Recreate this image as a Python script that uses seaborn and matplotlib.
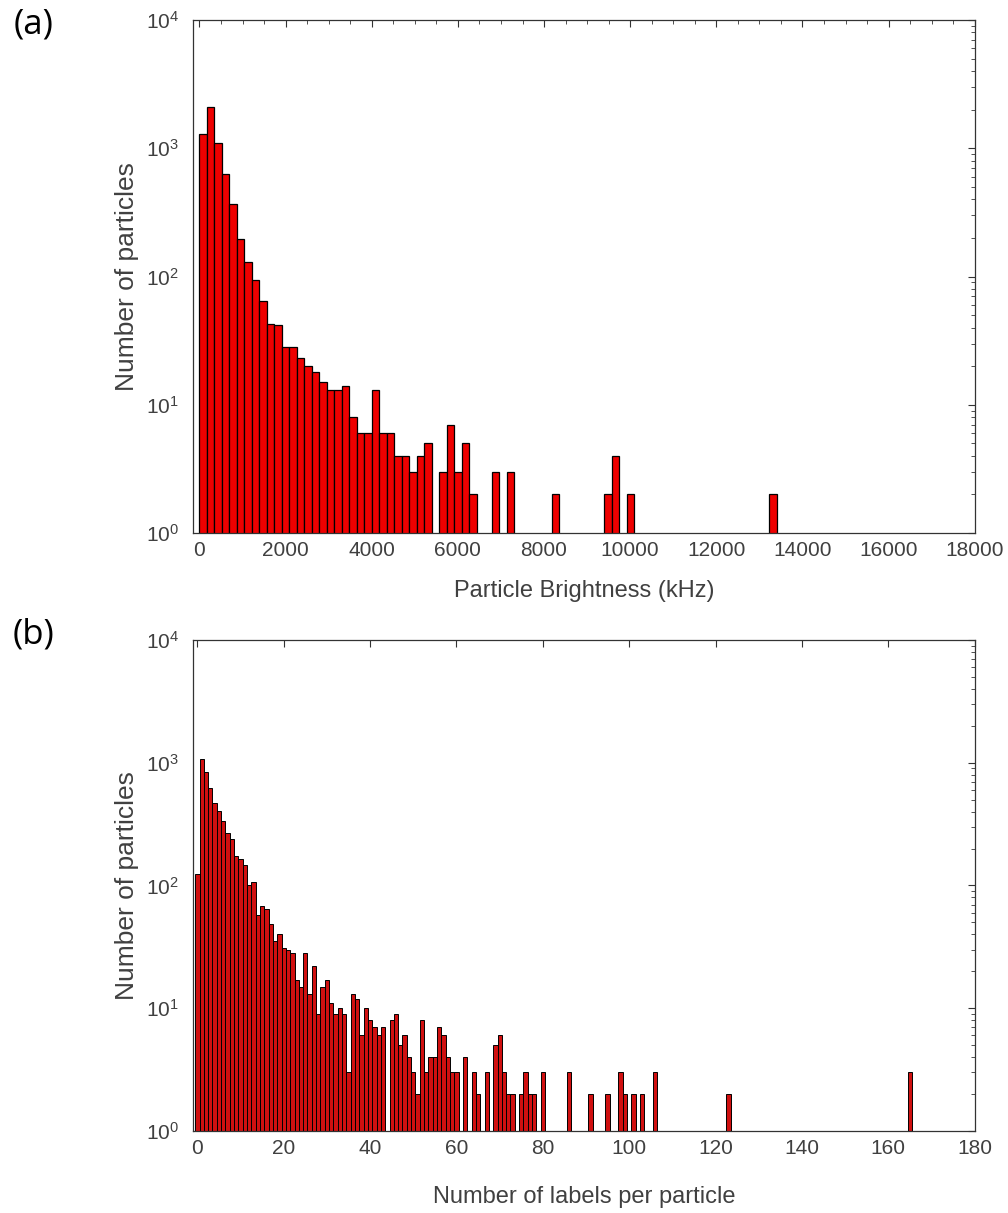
import numpy as np
import pandas as pd
import matplotlib
matplotlib.use("Agg")
import matplotlib.pyplot as plt
import seaborn as sns
from matplotlib.ticker import MultipleLocator, LogLocator, NullFormatter

# (a) brightness histogram: bin centres (kHz) and counts
brightness_kHz = [87, 261, 435, 609, 783, 957, 1131, 1305, 1479, 1653,
                  1827, 2001, 2175, 2349, 2523, 2697, 2871, 3045, 3219, 3393,
                  3567, 3741, 3915, 4089, 4263, 4437, 4611, 4785, 4959, 5133,
                  5307, 5655, 5829, 6003, 6177, 6351, 6873, 7221, 8265, 9483,
                  9657, 10005, 13311]
brightness_counts = [1285, 2085, 1094, 627, 368, 195, 129, 94, 64, 43,
                     42, 28, 28, 23, 20, 18, 15, 13, 13, 14,
                     8, 6, 6, 13, 6, 6, 4, 4, 3, 4,
                     5, 3, 7, 3, 5, 2, 3, 3, 2, 2,
                     4, 2, 2]
bin_width_a = 174

# (b) labels per particle
labels_per_particle = [0, 1, 2, 3, 4, 5, 6, 7, 8, 9, 10, 11, 12, 13, 14, 15, 16, 17,
                       18, 19, 20, 21, 22, 23, 24, 25, 26, 27, 28, 29, 30, 31, 32,
                       33, 34, 35, 36, 37, 38, 39, 40, 41, 42, 43, 45, 46, 47, 48,
                       49, 50, 51, 52, 53, 54, 55, 56, 57, 58, 59, 60, 62, 64, 65,
                       67, 69, 70, 71, 72, 73, 75, 76, 77, 78, 80, 86, 91, 95, 98,
                       99, 101, 103, 106, 123, 165]
label_counts = [125, 1070, 840, 622, 470, 407, 338, 270, 240, 175, 165, 146, 100, 106,
                57, 68, 64, 49, 35, 40, 31, 30, 28, 17, 15, 28, 13, 22, 9, 15, 17,
                11, 9, 10, 9, 3, 13, 12, 6, 10, 8, 7, 6, 7, 8, 9, 5, 6, 4, 3, 2, 8,
                3, 4, 4, 7, 6, 4, 3, 3, 4, 3, 2, 3, 5, 6, 3, 2, 2, 2, 3, 2, 2, 3,
                3, 2, 2, 3, 2, 2, 2, 3, 2, 3]

df_a = pd.DataFrame({"brightness": brightness_kHz, "count": brightness_counts})
df_b = pd.DataFrame({"labels": labels_per_particle, "count": label_counts})

sns.set_style("white")
plt.rcParams["font.family"] = ["Liberation Sans", "DejaVu Sans"]
plt.rcParams["mathtext.fontset"] = "custom"
plt.rcParams["mathtext.rm"] = "Liberation Sans"
plt.rcParams["mathtext.it"] = "Liberation Sans:italic"
plt.rcParams["mathtext.bf"] = "Liberation Sans:bold"

txt_color = "#404040"
fig = plt.figure(figsize=(10.08, 12.13), dpi=100)
ax_a = fig.add_axes([0.1915, 0.5606, 0.7755, 0.4229])
ax_b = fig.add_axes([0.1915, 0.0676, 0.7755, 0.4048])

# 柱状图 (a)
sns.histplot(data=df_a, x="brightness", weights="count",
             binwidth=bin_width_a, binrange=(0, 13398),
             color="#ee0000", edgecolor="black", linewidth=0.9, alpha=1,
             ax=ax_a)

# 柱状图 (b)
sns.histplot(data=df_b, x="labels", weights="count", discrete=True,
             color="#d01010", edgecolor="black", linewidth=0.7, alpha=1,
             ax=ax_b)

for ax in (ax_a, ax_b):
    ax.set_yscale("log")
    ax.set_ylim(1, 1e4)
    ax.yaxis.set_major_locator(LogLocator(base=10, numticks=10))
    ax.yaxis.set_minor_locator(LogLocator(base=10, subs=np.arange(2, 10), numticks=10))
    ax.yaxis.set_minor_formatter(NullFormatter())
    ax.set_ylabel("Number of particles", fontsize=19, color=txt_color, labelpad=5)
    ax.tick_params(which="both", direction="in", top=True, right=True,
                   colors="#333333", labelcolor=txt_color, labelsize=15)
    ax.tick_params(which="major", length=5, width=0.8)
    ax.tick_params(which="minor", length=3, width=0.6)
    ax.tick_params(axis="y", pad=10)
    ax.tick_params(axis="x", pad=6)
    for spine in ax.spines.values():
        spine.set_visible(True)
        spine.set_color("#333333")
        spine.set_linewidth(0.9)

ax_a.set_xlim(-150, 18000)
ax_a.xaxis.set_major_locator(MultipleLocator(2000))
ax_a.xaxis.set_minor_locator(MultipleLocator(500))
ax_a.set_xlabel("Particle Brightness (kHz)", fontsize=17, color=txt_color, labelpad=14)

ax_b.set_xlim(-1, 180)
ax_b.xaxis.set_major_locator(MultipleLocator(20))
ax_b.set_xlabel("Number of labels per particle", fontsize=17, color=txt_color, labelpad=20)

fig.text(0.033, 0.980, "(a)", fontsize=25, family="Open Sans", color="black",
         ha="center", va="center")
fig.text(0.033, 0.477, "(b)", fontsize=25, family="Open Sans", color="black",
         ha="center", va="center")

fig.savefig("out.png", dpi=100, facecolor="white")
